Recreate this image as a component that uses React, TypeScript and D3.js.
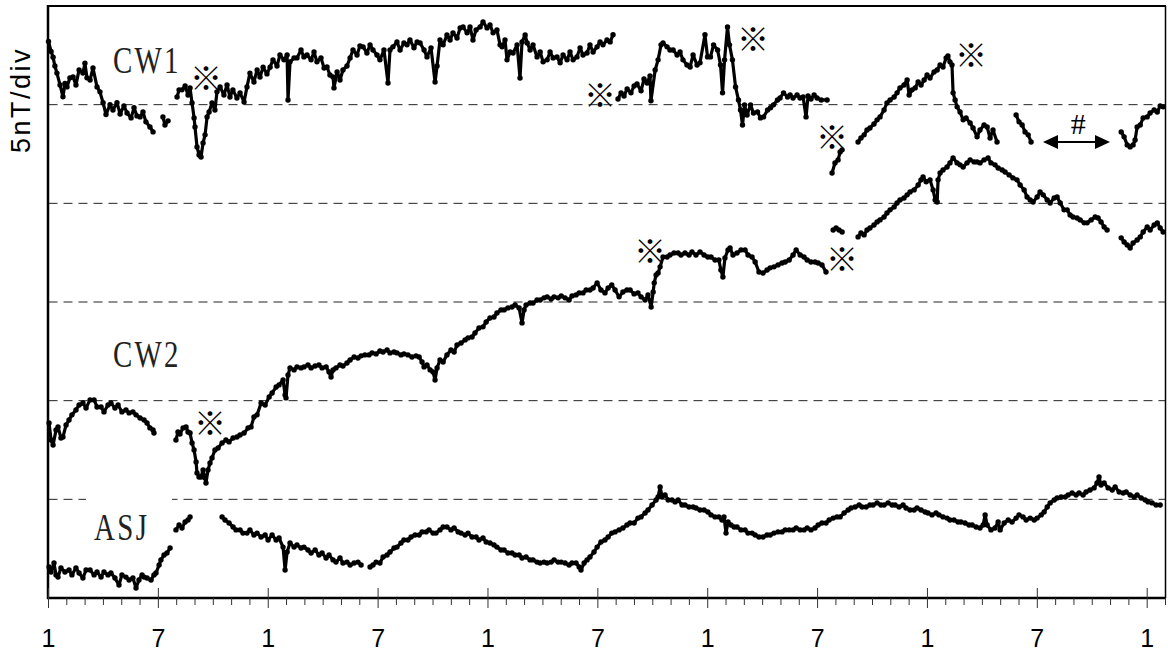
import React from 'react';
import * as d3 from 'd3';

type P = [number, number] | null;

// months since start (0 = month "1"), values in nT (5 nT per division)
const CW1: P[] = [
  [0,28.2],[0.14,27.7],[0.25,27.4],[0.35,26.96],[0.46,26.6],[0.63,26.0],[0.79,25.4],[0.9,26.07],[1.01,25.9],[1.17,26.36],
  [1.34,26.4],[1.5,26.0],[1.67,26.76],[1.88,26.6],[1.99,27.1],[2.1,26.36],[2.27,26.25],[2.43,26.86],[2.65,25.9],[2.81,25.65],
  [2.98,25.1],[3.14,24.5],[3.36,25.0],[3.52,24.73],[3.74,25.1],[3.91,24.53],[4.12,24.94],[4.29,24.58],[4.51,24.33],[4.67,24.84],
  [4.83,24.43],[5.0,24.38],[5.16,24.63],[5.32,24.13],[5.54,23.87],[5.71,23.62],
  null,
  [6.25,24.38],[6.36,23.97],[6.53,24.18],
  null,
  [7.02,25.39],[7.13,25.75],[7.29,25.75],[7.46,25.95],[7.62,25.49],[7.73,25.85],[7.84,25.09],[7.95,24.33],[8.0,23.87],[8.11,22.86],
  [8.22,22.45],[8.27,22.55],[8.33,22.35],[8.44,23.06],[8.55,23.47],[8.66,24.38],[8.77,24.63],[8.93,25.09],[9.09,24.73],[9.2,25.65],
  [9.37,25.9],[9.58,25.49],[9.75,26.0],[9.91,25.39],[10.07,25.75],[10.29,25.34],[10.46,25.6],[10.68,25.14],[10.84,25.9],[11.0,26.6],
  [11.22,26.15],[11.39,26.76],[11.55,26.4],[11.72,26.9],[11.93,26.56],[12.1,26.9],[12.26,27.27],[12.48,26.96],[12.64,27.52],[12.86,27.27],
  [13.03,27.52],[13.08,25.24],[13.19,27.17],[13.41,27.37],[13.57,27.37],[13.79,27.77],[13.95,27.42],[14.12,27.52],[14.34,27.27],[14.5,27.67],
  [14.66,27.17],[14.88,27.37],[15.05,26.86],[15.21,26.91],[15.37,26.5],[15.54,26.4],[15.59,25.85],[15.76,26.66],[15.92,26.25],[16.08,26.76],
  [16.3,26.96],[16.47,27.37],[16.63,27.77],[16.85,27.52],[17.01,27.98],[17.18,27.93],[17.39,27.62],[17.56,28.03],[17.72,27.77],[17.94,27.52],
  [18.1,27.27],[18.32,27.77],[18.54,26.1],[18.65,27.77],[18.81,27.93],[19.03,28.18],[19.2,27.77],[19.41,28.13],[19.58,28.03],[19.74,28.28],
  [19.96,27.88],[20.13,28.18],[20.29,28.13],[20.51,27.77],[20.67,27.42],[20.89,27.88],[21.11,26.15],[21.22,26.96],[21.38,28.28],[21.55,28.03],
  [21.76,28.53],[21.93,28.28],[22.09,28.64],[22.31,28.38],[22.48,28.89],[22.64,28.94],[22.86,28.64],[23.02,28.94],[23.18,28.28],[23.35,28.79],
  [23.57,28.94],[23.73,29.19],[23.95,28.89],[24.11,29.04],[24.28,28.64],[24.49,28.79],[24.66,28.03],[24.77,27.93],[24.93,28.28],[25.04,27.27],
  [25.21,27.67],[25.37,27.62],[25.59,28.03],[25.75,26.35],[25.86,28.18],[26.03,28.53],[26.14,28.13],[26.3,27.77],[26.46,28.03],[26.68,27.42],
  [26.85,27.67],[27.01,27.17],[27.23,27.27],[27.39,27.67],[27.56,27.37],[27.77,27.42],[27.94,27.12],[28.1,27.52],[28.32,27.27],[28.48,27.67],
  [28.65,27.27],[28.86,27.42],[29.03,27.88],[29.19,27.52],[29.41,27.62],[29.57,28.03],[29.74,27.67],[29.96,27.93],[30.12,28.18],[30.28,28.03],
  [30.5,28.28],[30.67,28.18],[30.83,28.54],
  null,
  [31.1,25.29],[31.27,25.6],[31.43,25.44],[31.6,25.8],[31.81,25.6],[31.98,25.95],[32.14,26.05],[32.36,25.7],[32.52,26.3],[32.69,26.1],
  [32.85,26.46],[32.9,25.2],[33.13,26.76],[33.29,27.27],[33.45,28.03],[33.56,28.13],[33.78,27.93],[33.94,27.77],[34.11,27.77],[34.33,27.52],
  [34.49,27.67],[34.65,27.27],[34.87,27.01],[35.04,26.91],[35.2,27.52],[35.42,27.01],[35.58,27.12],[35.85,28.54],[35.99,27.42],[36.15,27.42],
  [36.32,28.03],[36.54,27.77],[36.7,27.01],[36.81,25.6],[36.92,27.27],[37.08,28.94],[37.19,28.03],[37.35,27.27],[37.52,25.9],[37.68,25.24],
  [37.79,24.73],[37.9,23.97],[38.01,24.99],[38.15,24.48],[38.34,24.99],[38.5,24.58],[38.72,24.63],[38.88,24.33],[39.05,24.38],[39.27,24.73],
  [39.43,24.84],[39.59,24.99],[39.81,25.24],[39.95,25.34],[40.14,25.6],[40.36,25.39],[40.5,25.49],[40.66,25.34],[40.88,25.49],[41.04,25.34],
  [41.21,25.39],[41.37,24.38],[41.48,25.44],[41.64,25.29],[41.81,25.49],[41.97,25.34],[42.2,25.24],[42.52,25.24],
  null,
  [42.79,21.54],[42.95,22.05],[43.12,22.2],[43.23,22.6],[43.34,22.71],
  null,
  [44.21,23.11],[44.37,23.31],[44.54,23.47],[44.7,23.72],[44.86,23.82],[45.08,24.02],[45.25,24.23],[45.41,24.38],[45.63,24.73],[45.79,25.09],
  [45.96,25.24],[46.18,25.39],[46.34,25.6],[46.5,25.85],[46.72,26.0],[46.89,26.25],[47.0,25.49],[47.16,25.75],[47.33,25.85],[47.49,26.15],
  [47.65,26.0],[47.82,26.25],[47.98,26.5],[48.14,26.35],[48.36,26.66],[48.53,26.76],[48.69,27.01],[48.85,26.91],[49.02,27.37],[49.12,27.47],
  [49.23,27.17],[49.34,27.01],[49.4,25.6],[49.51,25.24],[49.62,24.89],[49.78,24.63],[49.95,24.23],[50.11,24.33],[50.33,24.07],[50.49,23.82],
  [50.71,23.37],[50.87,23.72],[51.09,23.97],[51.26,23.87],[51.42,23.31],[51.58,23.72],[51.8,23.11],
  null,
  [52.84,24.48],[53.0,24.13],[53.17,23.97],[53.33,23.62],[53.5,23.47],[53.66,23.11],
  null,
  [58.58,23.62],[58.74,23.37],[58.91,22.96],[59.07,22.86],[59.23,22.96],[59.34,23.21],[59.45,23.87],[59.62,23.97],[59.78,24.33],[60.0,24.38],
  [60.16,24.58],[60.38,24.73],[60.55,24.63],[60.71,24.94],[60.87,24.89]
];

const CW2: P[] = [
  [0.03,8.87],[0.14,8.01],[0.25,7.75],[0.41,8.51],[0.52,8.67],[0.68,8.11],[0.79,8.16],[0.96,8.77],[1.12,9.02],[1.28,9.28],
  [1.5,9.53],[1.67,9.78],[1.88,9.88],[2.05,9.63],[2.27,10.04],[2.49,10.04],[2.65,9.68],[2.87,9.68],[3.03,9.43],[3.25,9.78],
  [3.41,9.88],[3.63,9.63],[3.8,9.78],[4.01,9.43],[4.23,9.53],[4.4,9.38],[4.61,9.43],[4.78,9.28],[5.0,9.12],[5.22,9.02],
  [5.38,8.87],[5.54,8.62],[5.71,8.51],[5.76,8.36],
  null,
  [6.96,8.01],[7.07,8.41],[7.18,8.31],[7.35,8.62],[7.51,8.67],[7.62,8.41],[7.73,8.36],[7.84,7.86],[7.95,7.5],[8.06,6.89],
  [8.11,6.34],[8.22,6.13],[8.33,6.13],[8.44,6.49],[8.55,6.08],[8.6,5.83],[8.71,6.49],[8.82,6.84],[8.93,7.1],[9.09,7.5],
  [9.26,7.6],[9.48,7.86],[9.69,8.01],[9.86,7.91],[10.08,8.11],[10.29,8.16],[10.46,8.26],[10.68,8.36],[10.9,8.62],[11.06,8.67],
  [11.22,9.17],[11.39,9.28],[11.61,9.88],[11.83,9.78],[12.05,10.19],[12.21,10.39],[12.43,10.69],[12.59,10.8],[12.81,11.05],[12.92,10.29],
  [12.97,10.14],[13.08,11.3],[13.19,11.66],[13.41,11.56],[13.57,11.71],[13.79,11.66],[13.95,11.71],[14.17,11.81],[14.34,11.66],[14.56,11.76],
  [14.77,11.81],[14.94,11.66],[15.16,11.71],[15.32,11.45],[15.43,11.2],[15.54,11.56],[15.7,11.66],[15.92,11.81],[16.08,11.76],[16.3,11.91],
  [16.47,12.06],[16.69,12.21],[16.9,12.16],[17.07,12.27],[17.28,12.32],[17.5,12.32],[17.67,12.42],[17.89,12.37],[18.1,12.52],[18.27,12.47],
  [18.49,12.57],[18.65,12.42],[18.87,12.47],[19.03,12.42],[19.25,12.32],[19.41,12.37],[19.63,12.32],[19.85,12.21],[20.07,12.27],[20.24,12.21],
  [20.4,11.96],[20.51,11.71],[20.67,11.81],[20.84,11.56],[21.0,11.45],[21.11,11.05],[21.22,11.66],[21.38,12.06],[21.55,11.96],[21.76,12.32],
  [21.98,12.57],[22.15,12.47],[22.31,12.82],[22.53,12.92],[22.75,13.08],[22.91,13.18],[23.13,13.23],[23.29,13.43],[23.51,13.68],[23.73,13.74],
  [23.9,13.99],[24.11,14.19],[24.33,14.24],[24.49,14.44],[24.71,14.6],[24.88,14.6],[25.09,14.7],[25.31,14.75],[25.48,14.85],[25.7,14.7],
  [25.86,13.94],[25.97,14.6],[26.08,14.85],[26.3,14.95],[26.46,14.95],[26.68,15.1],[26.85,15.1],[27.06,15.21],[27.23,15.26],[27.45,15.15],
  [27.61,15.26],[27.83,15.21],[28.0,15.31],[28.21,15.21],[28.43,15.1],[28.59,15.31],[28.81,15.36],[28.98,15.46],[29.19,15.46],[29.36,15.61],
  [29.57,15.61],[29.74,15.71],[29.96,15.97],[30.17,15.61],[30.39,15.46],[30.56,15.71],[30.76,15.86],[30.94,15.61],[31.16,15.26],[31.37,15.51],
  [31.59,15.61],[31.76,15.61],[31.98,15.41],[32.19,15.46],[32.36,15.26],[32.58,15.1],[32.74,15.36],[32.91,14.75],[33.02,15.51],[33.08,15.97],
  [33.18,16.37],[33.29,16.47],[33.4,16.78],[33.56,17.28],[33.78,17.28],[33.94,17.38],[34.16,17.48],[34.38,17.48],[34.54,17.38],[34.76,17.48],
  [34.98,17.38],[35.14,17.54],[35.36,17.38],[35.58,17.54],[35.8,17.38],[36.01,17.28],[36.18,17.28],[36.4,17.13],[36.61,17.13],[36.72,16.62],
  [36.83,16.27],[36.94,17.23],[37.11,17.64],[37.22,17.74],[37.38,17.38],[37.6,17.48],[37.82,17.64],[38.04,17.64],[38.2,17.38],[38.42,17.28],
  [38.59,17.03],[38.8,16.52],[39.02,16.47],[39.24,16.62],[39.41,16.73],[39.62,16.78],[39.84,16.88],[40.06,16.98],[40.23,17.03],[40.45,17.13],
  [40.66,17.38],[40.83,17.64],[41.05,17.38],[41.26,17.28],[41.43,17.13],[41.64,17.03],[41.86,17.03],[42.03,16.98],[42.24,16.88],[42.46,16.52],
  null,
  [42.85,18.65],[43.01,18.75],[43.17,18.65],[43.34,18.55],
  null,
  [44.21,18.3],[44.37,18.5],[44.54,18.4],[44.7,18.65],[44.86,18.75],[45.08,18.9],[45.25,19.06],[45.41,19.16],[45.63,19.31],[45.79,19.51],
  [45.96,19.67],[46.18,19.82],[46.34,20.02],[46.5,20.17],[46.72,20.27],[46.89,20.43],[47.05,20.58],[47.27,20.68],[47.49,20.93],[47.65,21.19],
  [47.76,21.34],[47.93,21.09],[48.14,21.19],[48.31,20.68],[48.42,20.17],[48.53,20.07],[48.58,21.19],[48.69,21.54],[48.85,21.69],[49.07,21.84],
  [49.23,22.05],[49.4,22.3],[49.62,22.05],[49.78,21.95],[49.95,21.84],[50.16,22.05],[50.33,22.2],[50.55,22.1],[50.71,22.1],[50.87,22.05],
  [51.09,22.2],[51.31,22.3],[51.47,22.05],[51.69,21.95],[51.86,21.79],[52.08,21.69],[52.24,21.59],[52.46,21.44],[52.67,21.29],[52.89,21.19],
  [53.06,20.93],[53.28,20.68],[53.44,20.32],[53.61,20.17],[53.77,20.07],[53.99,20.32],[54.15,20.58],[54.32,20.43],[54.54,20.17],[54.7,20.02],
  [54.92,20.27],[55.08,20.32],[55.25,20.02],[55.46,19.67],[55.63,19.67],[55.79,19.41],[55.95,19.31],[56.17,19.26],[56.34,19.16],[56.56,19.01],
  [56.72,19.01],[56.94,19.16],[57.16,19.31],[57.32,19.26],[57.48,19.06],[57.65,18.8],[57.81,18.65],
  null,
  [58.58,18.25],[58.74,18.04],[58.91,17.89],[59.07,17.74],[59.23,17.99],[59.45,18.14],[59.62,18.3],[59.78,18.55],[60.0,18.8],[60.16,18.65],
  [60.38,18.9],[60.55,19.01],[60.71,18.75],[60.87,18.55]
];

const ASJ: P[] = [
  [0.03,1.57],[0.14,1.32],[0.3,1.77],[0.41,1.17],[0.52,1.06],[0.68,1.52],[0.9,1.32],[1.12,1.42],[1.28,1.17],[1.5,1.52],
  [1.67,1.27],[1.88,1.01],[2.05,1.42],[2.27,1.42],[2.49,1.17],[2.65,1.32],[2.87,1.06],[3.03,1.32],[3.25,1.17],[3.41,1.27],
  [3.63,1.01],[3.85,0.66],[4.01,1.17],[4.23,1.06],[4.4,0.91],[4.61,1.01],[4.78,0.51],[4.94,0.91],[5.11,1.17],[5.22,1.06],
  [5.38,1.01],[5.6,0.91],[5.76,1.17],[5.87,1.27],[6.04,1.67],[6.14,1.93],[6.31,2.18],[6.47,2.28],[6.64,2.53],
  null,
  [6.96,3.45],[7.13,3.7],[7.29,3.55],[7.46,3.85],[7.62,3.95],[7.73,4.11],
  null,
  [9.48,4.11],[9.64,3.95],[9.86,3.8],[10.08,3.6],[10.24,3.45],[10.46,3.45],[10.62,3.29],[10.84,3.29],[11.0,3.45],[11.22,3.19],
  [11.39,3.29],[11.61,3.09],[11.83,3.19],[11.99,2.94],[12.21,3.19],[12.43,2.94],[12.59,3.04],[12.81,2.58],[12.92,1.42],[13.03,2.33],
  [13.19,2.79],[13.41,2.58],[13.57,2.69],[13.79,2.53],[13.95,2.58],[14.17,2.43],[14.34,2.28],[14.56,2.43],[14.77,2.18],[14.94,2.28],
  [15.16,2.03],[15.32,2.18],[15.54,1.93],[15.7,1.82],[15.92,2.03],[16.08,1.77],[16.3,1.82],[16.47,1.67],[16.69,1.77],[16.9,1.82],
  [17.07,1.67],
  null,
  [17.56,1.57],[17.72,1.67],[17.89,1.82],[18.1,1.77],[18.27,2.08],[18.49,2.18],[18.65,2.33],[18.87,2.53],[19.03,2.58],[19.25,2.79],
  [19.41,2.94],[19.63,2.94],[19.8,3.09],[20.02,3.19],[20.24,3.19],[20.4,3.35],[20.62,3.35],[20.78,3.45],[21.0,3.29],[21.16,3.29],
  [21.38,3.45],[21.55,3.6],[21.76,3.6],[21.98,3.45],[22.15,3.55],[22.37,3.35],[22.53,3.29],[22.75,3.19],[22.91,3.29],[23.13,3.09],
  [23.35,3.09],[23.51,2.94],[23.73,3.04],[23.9,2.84],[24.11,2.79],[24.33,2.69],[24.49,2.58],[24.71,2.43],[24.88,2.43],[25.09,2.28],
  [25.31,2.28],[25.48,2.18],[25.7,2.18],[25.86,2.03],[26.08,2.08],[26.3,1.93],[26.46,1.93],[26.68,1.82],[26.85,1.77],[27.06,1.82],
  [27.23,1.77],[27.45,1.82],[27.61,1.93],[27.83,1.82],[28.0,1.82],[28.21,1.77],[28.43,1.67],[28.59,1.77],[28.81,1.77],[28.98,1.57],
  [29.08,1.42],[29.25,1.77],[29.41,1.93],[29.57,2.08],[29.79,2.33],[29.96,2.58],[30.17,2.84],[30.39,2.94],[30.56,3.09],[30.76,3.29],
  [30.94,3.35],[31.16,3.45],[31.37,3.55],[31.59,3.7],[31.76,3.8],[31.98,3.8],[32.19,4.05],[32.36,4.11],[32.58,4.31],[32.74,4.46],
  [32.96,4.71],[33.18,4.97],[33.29,5.12],[33.4,5.63],[33.51,5.12],[33.67,5.22],[33.84,4.97],[34.05,4.97],[34.22,4.87],[34.38,4.97],
  [34.6,4.71],[34.76,4.71],[34.98,4.61],[35.2,4.61],[35.36,4.56],[35.58,4.46],[35.8,4.46],[36.01,4.36],[36.18,4.21],[36.4,4.11],
  [36.61,4.11],[36.78,3.95],[36.89,4.11],[37.0,3.29],[37.11,3.85],[37.27,3.7],[37.44,3.6],[37.6,3.6],[37.82,3.45],[38.04,3.45],
  [38.2,3.29],[38.42,3.29],[38.59,3.19],[38.8,3.09],[39.02,3.09],[39.24,3.19],[39.41,3.19],[39.62,3.29],[39.84,3.35],[40.06,3.35],
  [40.23,3.45],[40.45,3.45],[40.66,3.45],[40.83,3.55],[41.05,3.45],[41.26,3.45],[41.43,3.55],[41.64,3.45],[41.86,3.55],[42.03,3.7],
  [42.24,3.8],[42.46,3.8],[42.63,3.95],[42.85,4.05],[43.06,4.11],[43.23,4.11],[43.45,4.31],[43.67,4.46],[43.83,4.56],[44.05,4.61],
  [44.27,4.71],[44.43,4.61],[44.65,4.61],[44.86,4.71],[45.03,4.71],[45.25,4.82],[45.46,4.71],[45.63,4.71],[45.85,4.82],[46.07,4.71],
  [46.23,4.71],[46.45,4.61],[46.67,4.71],[46.83,4.56],[47.05,4.46],[47.27,4.46],[47.43,4.56],[47.65,4.46],[47.87,4.36],[48.03,4.31],
  [48.25,4.21],[48.47,4.31],[48.63,4.21],[48.85,4.11],[49.07,4.05],[49.23,3.95],[49.45,3.95],[49.67,3.85],[49.83,3.85],[50.05,3.8],
  [50.27,3.7],[50.44,3.7],[50.66,3.6],[50.87,3.55],[51.04,3.7],[51.15,4.21],[51.26,3.7],[51.47,3.45],[51.69,3.55],[51.86,3.85],
  [51.97,3.45],[52.19,3.8],[52.41,3.95],[52.62,3.85],[52.84,4.05],[53.0,4.21],[53.22,4.11],[53.39,3.95],[53.61,4.05],[53.83,3.95],
  [53.99,4.05],[54.21,4.21],[54.37,4.36],[54.54,4.61],[54.7,4.82],[54.92,4.97],[55.08,5.07],[55.3,5.12],[55.52,5.12],[55.68,5.22],
  [55.9,5.32],[56.12,5.22],[56.28,5.32],[56.5,5.22],[56.66,5.37],[56.88,5.47],[57.1,5.58],[57.26,5.83],[57.37,6.13],[57.48,5.73],
  [57.65,5.83],[57.87,5.58],[58.09,5.47],[58.25,5.63],[58.47,5.37],[58.69,5.32],[58.85,5.37],[59.07,5.22],[59.29,5.12],[59.45,5.22],
  [59.67,5.07],[59.89,4.97],[60.05,4.87],[60.27,4.82],[60.49,4.71],[60.71,4.71]
];

const SERIES_NAMES = ['CW1', 'CW2', 'ASJ'];
const SERIES_LABEL_POS: [number, number][] = [[3.52, 26.61], [3.52, 11.71], [2.49, 2.94]];

const MAJOR_TICK_MONTHS = [0, 6, 12, 18, 24, 30, 36, 42, 48, 54, 60];
const MAJOR_TICK_LABELS = ['1', '7', '1', '7', '1', '7', '1', '7', '1', '7', '1'];
const GRID_VALUES = [5, 10, 15, 20, 25];

// ※ marks (month, nT)
const NOTE_MARKS: [number, number][] = [
  [8.6, 26.46], [30.12, 25.6], [38.48, 28.43], [42.79, 23.47], [50.38, 27.62],
  [32.85, 17.69], [43.34, 17.28], [8.82, 8.97]
];
const HASH_POS: [number, number] = [56.23, 24.07];
const HASH_ARROW: [number, number, number] = [54.31, 57.97, 23.11];

const W = 1168, H = 654;

export default function App() {
  const x = d3.scaleLinear().domain([0, 61]).range([48.5, 1165.5]);
  const y = d3.scaleLinear().domain([0, 30]).range([598, 6]);
  const line = d3.line<P>()
    .defined((d) => d !== null)
    .x((d) => x((d as [number, number])[0]))
    .y((d) => y((d as [number, number])[1]));

  const series = [CW1, CW2, ASJ];
  const minorTicks = d3.range(0, 62).filter((m) => m % 6 !== 0);

  const ax1 = x(HASH_ARROW[0]), ax2 = x(HASH_ARROW[1]), ay = y(HASH_ARROW[2]);

  return (
    <svg width={W} height={H} style={{ position: 'absolute', left: 0, top: 0, background: '#fff' }}>
      <rect x={0} y={0} width={W} height={H} fill="#fff" />
      {GRID_VALUES.map((v) => (
        <line key={v} x1={x(0)} x2={x(61)} y1={y(v)} y2={y(v)} stroke="#222" strokeWidth={1} strokeDasharray="9,6" />
      ))}
      {/* white patch behind ASJ label */}
      <rect x={x(2.05)} y={y(5) - 5} width={x(6.75) - x(2.05)} height={10} fill="#fff" />
      {series.map((s, i) => (
        <g key={i}>
          <path d={line(s) || ''} fill="none" stroke="#000" strokeWidth={3.2} strokeLinejoin="round" />
          {s.filter((d) => d !== null).map((d, j) => (
            <circle key={j} cx={x((d as [number, number])[0])} cy={y((d as [number, number])[1])} r={2.7} fill="#000" />
          ))}
        </g>
      ))}
      {/* frame */}
      <line x1={48} x2={1166} y1={6} y2={6} stroke="#000" strokeWidth={2} />
      <line x1={1165.5} x2={1165.5} y1={6} y2={598} stroke="#000" strokeWidth={1.5} />
      <line x1={48} x2={48} y1={5} y2={599} stroke="#000" strokeWidth={2.5} />
      <line x1={47} x2={1166} y1={598} y2={598} stroke="#000" strokeWidth={2.5} />
      {minorTicks.map((m) => (
        <line key={m} x1={x(m)} x2={x(m)} y1={598} y2={605} stroke="#333" strokeWidth={1} />
      ))}
      {MAJOR_TICK_MONTHS.map((m, i) => (
        <g key={m}>
          <line x1={x(m)} x2={x(m)} y1={588} y2={608} stroke="#333" strokeWidth={1} />
          <text x={x(m)} y={647} textAnchor="middle" fontFamily="'Liberation Sans', Arial, sans-serif" fontSize={25} fill="#000">
            {MAJOR_TICK_LABELS[i]}
          </text>
        </g>
      ))}
      <text transform="translate(30,100) rotate(-90)" textAnchor="middle" fontFamily="'Liberation Sans', Arial, sans-serif" fontSize={27} letterSpacing={2.5} fill="#000">
        5nT/div
      </text>
      {SERIES_NAMES.map((n, i) => (
        <text key={n} transform={`translate(${x(SERIES_LABEL_POS[i][0])},${y(SERIES_LABEL_POS[i][1])}) scale(0.78,1)`}
          fontFamily="'Liberation Serif', 'DejaVu Serif', serif" fontSize={37} letterSpacing={3} fill="#222">
          {n}
        </text>
      ))}
      {NOTE_MARKS.map((p, i) => (
        <text key={i} x={x(p[0])} y={y(p[1])} textAnchor="middle" dominantBaseline="central"
          fontFamily="'Noto Sans CJK JP', sans-serif" fontSize={32} fill="#000">※</text>
      ))}
      <text x={x(HASH_POS[0])} y={y(HASH_POS[1])} textAnchor="middle" dominantBaseline="central"
        fontFamily="'Liberation Serif', serif" fontSize={30} fill="#000">#</text>
      <line x1={ax1 + 12} x2={ax2 - 12} y1={ay} y2={ay} stroke="#000" strokeWidth={2} />
      <path d={`M${ax1},${ay} L${ax1 + 15},${ay - 7} L${ax1 + 15},${ay + 7} Z`} fill="#000" />
      <path d={`M${ax2},${ay} L${ax2 - 15},${ay - 7} L${ax2 - 15},${ay + 7} Z`} fill="#000" />
    </svg>
  );
}
